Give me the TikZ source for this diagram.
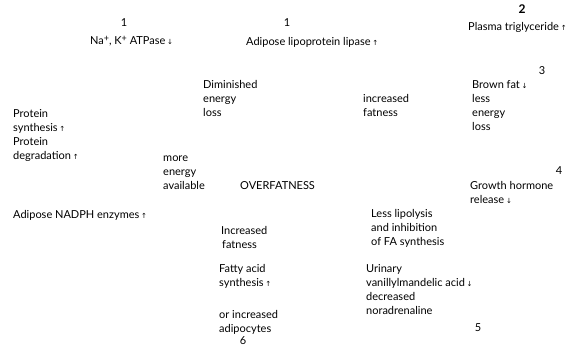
\documentclass[tikz,border=0pt]{standalone}
\usepackage{fontspec}
\setmainfont{Lato}
\newfontfamily\arrowfont{DejaVu Sans}
\newcommand{\upa}{\,{\arrowfont\scriptsize ↑}}
\newcommand{\dna}{\,{\arrowfont\scriptsize ↓}}
\newcommand{\plussup}{\raisebox{0.45ex}{\fontsize{9}{9}\selectfont +}}
\tikzset{
  txt/.style={anchor=base west, inner sep=0pt, align=left, font=\fontsize{11}{14}\selectfont},
  num/.style={anchor=base, inner sep=0pt, font=\fontsize{11}{14}\selectfont}
}
\begin{document}
\begin{tikzpicture}[x=1pt,y=1pt]
\useasboundingbox (0,0) rectangle (567,349);
% numbers
\node[num] (n1a) at (124,323) {1};
\node[num] (n1b) at (287,322) {1};
\node[num,font=\fontsize{12}{14}\selectfont\bfseries] (n2) at (522,335) {2};
\node[num] (n3) at (542,275) {3};
\node[num] (n4) at (559,175) {4};
\node[num] (n5) at (478,18) {5};
\node[num] (n6) at (243,5) {6};
% labels (base anchor = baseline of last line)
\node[txt] (atp) at (90,305) {Na\plussup, K\plussup\ ATPase\dna};
\node[txt] (lpl) at (246,303) {Adipose lipoprotein lipase\upa};
\node[txt] (tg) at (468,318) {Plasma triglyceride\upa};
\node[txt] (dim) at (203,233) {Diminished\\energy\\loss};
\node[txt] (inc1) at (363,233) {increased\\fatness};
\node[txt] (bf) at (472,219) {Brown fat\dna\\less\\energy\\loss};
\node[txt] (prot) at (13,190) {Protein\\synthesis\upa\\Protein\\degradation\upa};
\node[txt] (more) at (163,160) {more\\energy\\available};
\node[txt] (over) at (240,160) {OVERFATNESS};
\node[txt] (gh) at (470,146) {Growth hormone\\release\dna};
\node[txt] (nadph) at (13,131) {Adipose NADPH enzymes\upa};
\node[txt] (lip) at (371,104) {Less lipolysis\\and inhibition\\of FA synthesis};
\node[txt] (inc2) at (221,101) {Increased\\\hspace*{1pt}fatness};
\node[txt] (fas) at (219,63) {Fatty acid\\synthesis\upa};
\node[txt] (vma) at (366,35) {Urinary\\vanillylmandelic acid\dna\\decreased\\noradrenaline};
\node[txt] (adip) at (219,17) {or increased\\adipocytes};
\end{tikzpicture}
\end{document}
